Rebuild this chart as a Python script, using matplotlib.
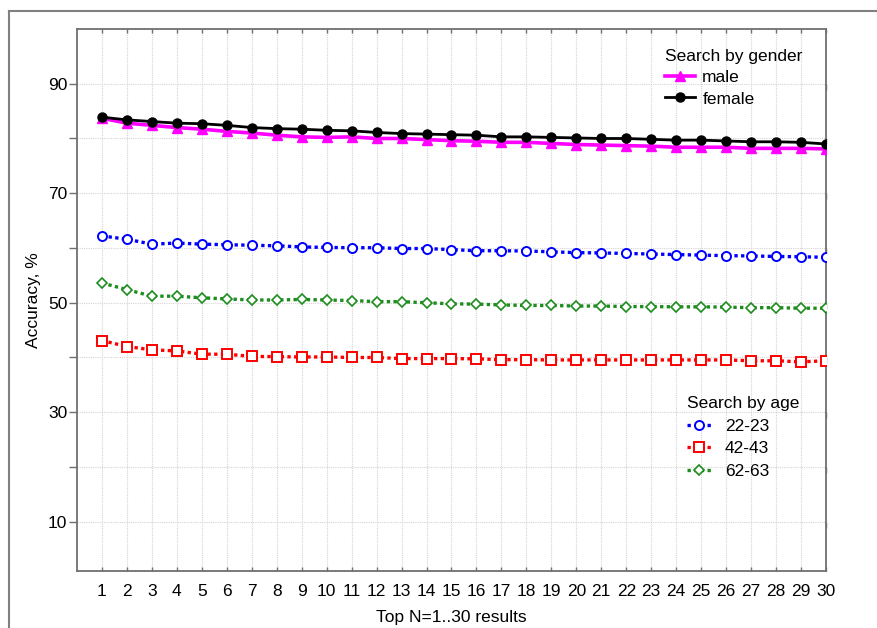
import matplotlib
matplotlib.use("Agg")
import matplotlib.pyplot as plt
from matplotlib.lines import Line2D

plt.rcParams['font.family'] = ['Liberation Sans', 'DejaVu Sans']
plt.rcParams['font.size'] = 12.5

top_n = list(range(1, 31))

male = [83.7, 82.8, 82.4, 82.0, 81.7, 81.3, 81.0, 80.6, 80.3, 80.2,
        80.3, 80.0, 80.0, 79.8, 79.6, 79.5, 79.3, 79.3, 79.1, 78.9,
        78.8, 78.7, 78.6, 78.4, 78.4, 78.4, 78.2, 78.2, 78.2, 78.1]
female = [83.9, 83.4, 83.1, 82.8, 82.7, 82.4, 82.0, 81.8, 81.7, 81.5,
          81.4, 81.1, 80.9, 80.8, 80.7, 80.6, 80.3, 80.3, 80.2, 80.1,
          80.0, 80.0, 79.85, 79.7, 79.7, 79.55, 79.4, 79.4, 79.3, 79.0]
age_22_23 = [62.2, 61.6, 60.7, 60.9, 60.7, 60.6, 60.5, 60.4, 60.2, 60.1,
             60.05, 60.05, 59.9, 59.9, 59.7, 59.5, 59.5, 59.45, 59.3, 59.15,
             59.1, 59.0, 58.9, 58.8, 58.7, 58.6, 58.55, 58.45, 58.4, 58.3]
age_42_43 = [43.1, 42.0, 41.4, 41.2, 40.6, 40.6, 40.2, 40.15, 40.1, 40.1,
             40.0, 40.0, 39.8, 39.8, 39.8, 39.75, 39.6, 39.6, 39.55, 39.55,
             39.55, 39.55, 39.55, 39.55, 39.55, 39.55, 39.4, 39.4, 39.2, 39.4]
age_62_63 = [53.6, 52.4, 51.2, 51.2, 50.9, 50.7, 50.5, 50.5, 50.6, 50.5,
             50.4, 50.2, 50.2, 50.0, 49.8, 49.75, 49.6, 49.5, 49.5, 49.4,
             49.4, 49.3, 49.3, 49.25, 49.25, 49.2, 49.1, 49.1, 49.0, 49.0]

y_ticks = [10, 20, 30, 40, 50, 60, 70, 80, 90]
y_labels = ['10', '', '30', '', '50', '', '70', '', '90']

fig = plt.figure(figsize=(8.78, 6.28), dpi=100)
W, H = 878, 628
ax = fig.add_axes([77 / W, 1 - 571 / H, (826 - 77) / W, (571 - 29) / H])

# outer frame (partially visible)
fig.add_artist(Line2D([9 / W, 9 / W], [0, 1 - 11 / H], transform=fig.transFigure,
                      color='#808080', lw=1.5))
fig.add_artist(Line2D([9 / W, 1], [1 - 11 / H, 1 - 11 / H], transform=fig.transFigure,
                      color='#808080', lw=1.5))

dot = (0, (1, 1))
l_m, = ax.plot(top_n, male, color='#FF00FF', lw=2.6, marker='^', ms=6.5,
               label='male', zorder=3)
l_f, = ax.plot(top_n, female, color='black', lw=2.0, marker='o', ms=6.5,
               label='female', zorder=4)
l_a1, = ax.plot(top_n, age_22_23, color='#0000FF', lw=2.4, ls=dot, marker='o', ms=6.5,
                mfc='white', mew=1.4, label='22-23', zorder=3)
l_a2, = ax.plot(top_n, age_42_43, color='#FF0000', lw=2.4, ls=dot, marker='s', ms=6.5,
                mfc='white', mew=1.4, label='42-43', zorder=3)
l_a3, = ax.plot(top_n, age_62_63, color='#1E8C1E', lw=2.4, ls=dot, marker='D', ms=5,
                mfc='white', mew=1.2, label='62-63', zorder=3)

ax.set_xlim(0, 30)
ax.set_ylim(1, 100)
ax.set_xticks(top_n)
ax.set_yticks(y_ticks)
ax.set_yticklabels(y_labels)
ax.grid(True, color='#d4d4d4', ls=(0, (1, 1)), lw=0.8)
ax.set_axisbelow(True)

ax.tick_params(axis='y', which='major', direction='out', length=6, width=1,
               color='#707070', pad=1, labelsize=12.5, right=True)
ax.tick_params(axis='x', which='major', direction='in', length=3, width=1,
               color='#707070', pad=9, labelsize=12.5, top=True)
for t in ax.yaxis.get_major_ticks():
    t.tick2line.set_marker(3)  # inward on right
    t.tick2line.set_markersize(4)

for s in ax.spines.values():
    s.set_color('#707070')
    s.set_linewidth(1.3)

ax.set_ylabel('Accuracy, %', fontsize=12.5, labelpad=5)
ax.set_xlabel('Top N=1..30 results', fontsize=12.5, labelpad=8)

leg1 = ax.legend(handles=[l_m, l_f], title='Search by gender', loc='upper left',
                 bbox_to_anchor=(0.785, 0.963), frameon=False, borderpad=0,
                 handlelength=1.75, handletextpad=0.4, labelspacing=0.35,
                 alignment='left', fontsize=12.5, title_fontsize=12.5, borderaxespad=0)
ax.add_artist(leg1)
leg2 = ax.legend(handles=[l_a1, l_a2, l_a3], title='Search by age', loc='upper left',
                 bbox_to_anchor=(0.814, 0.322), frameon=False, borderpad=0,
                 handlelength=1.4, handletextpad=0.8, labelspacing=0.42,
                 alignment='left', fontsize=12.5, title_fontsize=12.5, borderaxespad=0)

fig.savefig('out.png', dpi=100)
